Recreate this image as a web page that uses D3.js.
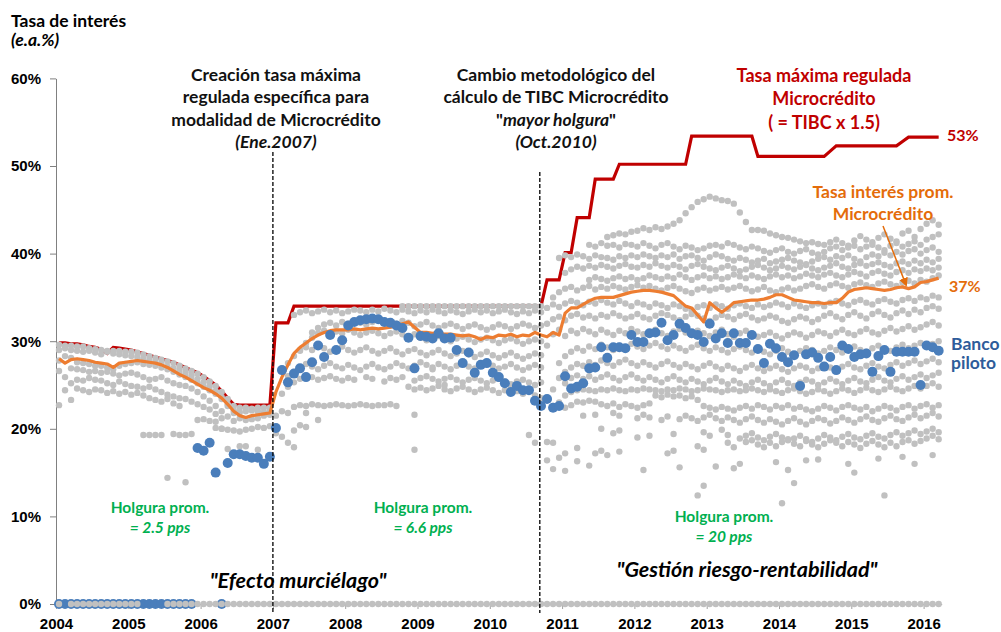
<!DOCTYPE html>
<html>
<head>
<meta charset="utf-8">
<script src="https://cdn.jsdelivr.net/npm/d3@7"></script>
<style>
body{margin:0;background:#fff}
svg{font-family:Lato,"Open Sans",sans-serif;font-weight:bold}
</style>
</head>
<body>
<script>
var width = 1001, height = 632;

// meses: indice 0 = ene.2004 ... 146 = mar.2016
var years = [2004,2005,2006,2007,2008,2009,2010,2011,2012,2013,2014,2015,2016];
var yTicks = [0,10,20,30,40,50,60];

// tasa maxima regulada (microcredito)
var redCap = [29.8,29.8,29.7,29.7,29.6,29.4,29.3,29.1,28.6,29.3,29.2,29.1,29.0,28.8,28.6,28.4,28.2,28.0,27.8,27.6,
  27.3,27.0,26.7,26.4,26.0,25.5,25.0,24.3,23.5,22.8,22.7,22.7,22.7,22.7,22.7,22.7,
  32.1,32.1,32.1,
  34.0,34.0,34.0,34.0,34.0,34.0,34.0,34.0,34.0,34.0,34.0,34.0,34.0,34.0,34.0,34.0,34.0,34.0,34.0,34.0,34.0,
  34.0,34.0,34.0,34.0,34.0,34.0,34.0,34.0,34.0,34.0,34.0,34.0,34.0,34.0,34.0,34.0,34.0,34.0,34.0,34.0,34.0,
  37.0,37.0,37.0,40.1,40.1,44.1,44.1,44.1,48.5,48.5,48.5,48.5,
  50.2,50.2,50.2,50.2,50.2,50.2,50.2,50.2,50.2,50.2,50.2,50.2,
  53.4,53.4,53.4,53.4,53.4,53.4,53.4,53.4,53.4,53.4,53.4,
  51.1,51.1,51.1,51.1,51.1,51.1,51.1,51.1,51.1,51.1,51.1,51.1,
  51.7,52.3,52.3,52.3,52.3,52.3,52.3,52.3,52.3,52.3,52.3,52.3,52.8,
  53.3,53.3,53.3,53.3,53.3,53.3];

// tasa de interes promedio microcredito
var avgRate = [28.0,27.5,27.9,28.0,27.9,27.8,27.6,27.5,27.4,27.0,27.5,27.6,27.7,27.8,27.7,27.6,27.5,27.3,27.0,26.6,
  26.2,25.9,25.5,25.1,24.7,24.4,24.0,23.5,22.8,22.0,21.5,21.3,21.5,21.6,21.7,21.8,
  24.2,25.9,27.3,28.6,29.3,29.8,30.3,30.7,31.0,31.2,31.3,31.3,
  31.3,31.4,31.3,31.4,31.5,31.4,31.5,31.6,31.8,32.0,32.2,
  31.6,31.0,31.0,30.9,31.0,30.8,30.8,30.7,30.6,30.7,30.5,30.2,30.5,30.4,30.7,30.6,30.8,30.5,30.7,30.6,31.0,30.7,30.5,31.0,30.7,
  33.2,33.8,33.8,34.2,34.6,34.9,35.0,35.0,35.0,35.2,35.4,35.6,35.7,35.8,35.8,35.7,35.6,35.4,35.2,34.6,
  34.0,33.8,33.0,32.2,34.4,33.8,33.3,33.8,34.4,34.5,34.6,34.7,34.7,34.8,35.0,35.3,35.3,35.0,34.7,34.6,
  34.5,34.4,34.4,34.3,34.4,34.4,34.9,35.6,35.9,36.0,36.1,36.0,35.9,35.8,35.9,36.1,36.2,36.0,36.2,36.7,
  36.8,37.0,37.2];

// banco piloto
var piloto = [0,0,0,0,0,0,0,0,0,0,0,0,0,0,0,0,0,0,0,0,0,0,0,
  17.8,17.5,18.4,15.0,0,16.1,17.1,17.1,16.9,16.7,16.7,16.0,16.8,
  20.1,26.7,25.3,26.3,26.9,25.9,27.6,29.5,28.2,30.7,
  29.0,30.1,31.8,32.2,32.4,32.5,32.6,32.5,32.2,32.1,
  31.8,31.5,30.4,26.9,30.6,30.5,30.3,30.9,30.3,30.4,
  29.0,27.5,28.7,26.4,27.3,27.5,26.4,25.9,25.2,24.2,
  24.9,24.4,24.4,23.2,22.6,23.4,22.4,22.6,26.0,24.6,
  24.8,25.2,26.9,27.0,29.3,28.1,29.3,29.3,29.2,30.7,
  29.9,29.9,30.9,31.0,32.1,30.1,30.7,32.0,31.5,30.9,
  30.7,29.9,32.0,30.3,30.9,29.8,30.9,29.8,29.8,30.7,
  29.1,27.5,29.7,29.2,28.2,27.6,28.4,24.9,28.5,28.7,
  28.1,27.1,28.2,26.7,29.5,29.1,28.2,28.5,28.6,26.5,
  28.3,29.0,26.5,28.8,28.8,28.8,28.8,25.0,29.5,29.3,
  28.9];

// resto de entidades: [mes inicial, valores mensuales] ("-" = sin dato)
var grayRows = [
  [0, "29.6 29.5 29.5 29.4 29.4 29.2 29.1 29.0 28.9 28.9 28.9 28.8 28.8 28.7 28.5 28.3 28.1 27.9 27.7 27.5 27.2 26.9 26.6 26.3 25.9 25.4 24.9 24.2 23.4 22.6 22.4 22.4 22.3 22.4 22.4 22.4"],
  [0, "29.0 29.2 29.0 28.9 28.8 28.9 28.7 28.5 28.8 28.6 28.5 28.4 28.3 28.2 28.0 27.8 27.6 27.4 27.1 26.9 26.7 26.4 26.1 25.7 25.3 24.9 24.3 23.6 22.8 22.1 21.9 22.0 22.1 22.0 21.9 22.0"],
  [0, "27.8 28.3 28.1 27.6 27.5 27.4 27.2 27.2 27.0 26.8 27.2 27.4 27.5 27.6 27.4 27.3 27.2 27.0 26.8 26.5 26.2 25.9 25.6 25.2 24.8 24.4 24.0 23.4 22.6 21.8 21.2 21.0 21.1 21.2 21.5 21.6"],
  [0, "26.6 25.9 26.9 26.8 26.7 26.5 26.6 26.4 26.5 26.3 26.1 26.3 26.4 26.2 25.9 25.6 25.7 25.9 25.5 25.2 25.0 24.9 24.6 24.2 23.7 23.2 22.6 22.0 21.4 20.9"],
  [2, "25.2 25.6 25.5 25.8 25.6 25.5 25.2 25.0 25.4 25.1 24.9 24.8 24.6 24.8 24.5 24.2 23.9 23.7 23.5 23.4 23.1 22.8 22.5 22.2 21.7 21.2"],
  [0, "22.7 24.4 23.3 24.6 24.4 24.2 24.5 24.4 24.1 24.3 24.0 24.2 23.9 24.1 23.8 23.5 23.3 23.1 23.4 22.9 22.6"],
  [14, "19.3 19.3 19.3 19.3 - 19.4 19.3 19.3 19.4 21.0 21.1 20.9 20.1 20.0 19.9 19.8 19.7 19.9 20.0 20.2 20.1 20.3"],
  [57, "34.0 34.0 34.0 34.0 34.0 34.0 34.0 34.0 34.0 34.0 34.0 34.0 34.0 34.0 34.0 34.0 34.0 34.0 34.0 34.0 34.0 34.0 34.0 34.0"],
  [39, "33.0 33.3 33.5 33.2 33.4 33.6 33.3 33.5 33.2 33.4 33.6 33.5 33.3 33.6 33.4 33.7 33.5 33.3 33.6 33.4 33.2 33.5 33.3 33.6 33.4 33.2 33.5 33.3 33.1 33.4 33.6 33.3 33.5 33.2 33.4 33.6 33.3 33.1 33.4 33.2 33.5 33.3"],
  [42, "31.0 31.5 31.9 32.1 31.8 32.2 32.0 32.3 32.1 31.9 32.2 32.4 32.1 31.8 32.0 32.3 32.1 31.7 31.9 32.2 31.8 31.5 31.8 32.0 31.7 31.4 31.7 31.9 31.6 31.3 31.6 31.9 31.7 31.4 31.7 32.0 31.8 31.5 31.8"],
  [40, "29.0 29.8 30.4 30.9 31.2 30.8 31.1 30.9 31.3 31.0 30.7 31.0 31.2 30.9 30.6 30.9 31.1 30.8 30.5 30.8 30.4 30.1 30.4 30.6 30.3 30.0 30.3 30.5 30.2 29.9 30.2 30.4 30.1 29.8 30.1 30.3 30.0 29.7 30.0 30.2 30.0"],
  [38, "27.5 28.3 28.9 29.3 29.0 29.5 29.2 28.8 29.1 29.4 29.0 28.7 29.0 29.3 28.9 28.6 28.9 29.2 28.8 28.5 28.9 29.1 28.7 28.4 28.7 29.0 28.6 28.3 28.6 28.9 28.5 28.2 28.5 28.8 28.4 28.1 28.4 28.7 28.3 28.0 28.3 28.6 28.4"],
  [38, "26.0 26.5 27.0 27.4 27.1 26.8 27.2 27.5 27.1 26.9 27.3 27.0 26.7 27.1 27.4 27.0 26.8 27.1 27.5 27.2 26.9 27.2 27.6 27.3 27.0 27.4 27.1 26.8 27.2 27.5 27.1 26.9 27.3 27.6 27.2 26.9 27.1 27.4 27.0 26.7 27.0 27.3 27.0"],
  [37, "24.0 24.8 25.3 25.7 - 25.9 25.6 25.8 26.0 25.7 25.5 25.8 25.6 - 25.9 25.7 - 25.4 25.8 25.6 25.9 - 25.5 25.8 26.0 25.7 25.4 25.7 25.9 25.6 25.3 25.6 25.8 25.5 25.2 25.5 25.7 25.4 25.1 25.4 25.6 25.3 25.0 25.3"],
  [58, "24.8 24.5 24.7 24.4 24.6 24.9 24.5 24.3 24.6 24.8 24.5 24.2 24.5 24.7 24.4 24.1 24.4 24.6 24.3 24.0 24.3 23.8 23.5"],
  [39, "22.5 22.7 22.6 22.8 22.7 22.6 22.7 22.8 22.7 22.6 22.7 22.8 22.7 22.6 22.7 22.7 22.8 22.6"],
  [36, "21.5 22.0 21.8 19.8 20.4 21.8 - 21.0"],
  [36, "19.5 19.1 18.4 17.9 - 20.2"],
  [91, "41.9 42.1 42.3 42.2 42.5 42.6 42.9 42.7 43.0 42.8 43.1 43.4 43.8 44.6 45.3 45.9 46.2 46.5 46.3 46.1 46.0 45.7 44.7 43.6 42.7 42.7 42.6 42.3 42.1 41.9 41.8 41.6 41.4 41.2 41.3 41.1 41.0 41.3 41.6 41.2 40.9 41.5 42.0 41.6 41.3 41.8 42.2 41.7 41.4 42.3 42.6 41.9 42.8 43.4 43.8 43.3"],
  [88, "41.0 40.8 41.2 40.9 41.0 40.7 41.1 41.0 40.8 41.2 40.9 40.6 41.0 41.2 40.8 40.5 40.9 40.7 40.4 40.6 40.9 41.0 40.8 41.2 41.0 40.7 40.5 40.8 40.6 40.3 40.1 40.4 40.6 40.2 40.0 40.3 40.5 40.1 39.9 40.2 40.6 40.8 40.4 40.7 40.9 40.5 40.8 41.0 40.7 40.4 40.9 41.2 40.8 41.1 41.4 41.0 41.6 41.9 42.2"],
  [83, "39.5 39.8 39.6 39.9 39.7 39.4 39.8 39.6 39.5 39.3 39.7 39.5 39.8 39.6 39.9 39.7 39.5 39.8 39.6 39.9 39.4 39.7 39.8 39.5 39.2 39.6 39.9 39.7 39.4 39.2 39.5 39.3 39.0 39.2 39.4 38.9 39.1 39.3 39.5 39.2 39.0 38.8 39.1 39.4 39.6 39.3 39.7 39.5 39.8 39.4 39.1 39.6 39.9 39.7 40.1 39.8 40.2 39.9 40.3 40.5 40.0 40.4 40.7 40.2"],
  [84, "37.8 38.2 38.5 38.3 38.6 38.4 38.7 38.5 38.3 38.6 38.8 38.5 38.4 38.7 38.5 38.9 38.6 38.4 38.7 38.5 38.2 38.6 38.8 38.5 38.3 38.1 38.4 38.6 38.3 38.0 38.2 38.5 38.7 38.4 38.1 38.3 38.6 38.4 38.2 38.5 38.7 38.3 38.1 38.4 38.6 38.9 38.5 38.3 38.7 38.9 38.6 38.8 39.0 38.7 38.5 38.9 39.1 38.8 39.2 38.9 39.3 39.0 39.4"],
  [88, "37.0 37.3 37.1 36.9 37.2 37.4 37.1 37.3 37.0 37.2 37.5 37.3 37.1 37.4 37.2 37.6 37.3 37.0 37.3 37.5 37.2 37.4 37.1 37.3 37.6 37.4 37.2 37.5 37.3 37.1 37.4 37.6 37.3 37.5 37.2 37.4 37.7 37.5 37.3 37.6 37.8 37.5 37.3 37.6 37.9 37.7 37.4 37.8 38.0 37.7 37.5 37.9 38.1 37.8 38.2 38.0 38.3 38.1 38.4"],
  [82, "35.0 35.6 36.0 36.2 35.8 36.1 36.3 35.9 36.2 36.0 36.3 36.1 35.9 36.2 36.4 36.1 36.3 36.0 35.8 36.1 36.3 36.0 35.7 35.5 35.9 36.1 35.8 36.0 36.2 35.9 36.1 36.3 36.0 35.7 35.9 36.2 35.8 35.6 35.9 36.1 35.8 36.0 36.3 36.5 36.2 36.0 36.4 36.6 36.3 36.1 36.5 36.7 36.4 36.2 36.6 36.8 36.5 36.3 36.7 36.9 36.6 37.0 36.8 37.2 37.5"],
  [81, "33.8 34.2 33.9 34.3 34.6 34.4 34.1 34.5 34.3 34.7 34.4 34.2 34.6 34.3 34.0 34.4 34.2 33.9 34.3 34.1 33.8 34.2 34.0 33.7 33.5 33.9 34.1 33.8 34.2 34.0 33.7 34.1 34.3 34.0 33.8 34.2 33.9 34.1 34.4 34.2 33.9 34.3 34.0 33.8 34.1 34.3 34.0 34.4 34.6 34.3 34.1 34.5 34.7 34.4 34.2 34.6 34.8 34.5 34.3 34.7 34.9 34.6 35.0 34.8 35.2 35.0"],
  [81, "32.0 32.5 32.8 32.4 32.9 33.1 32.7 32.9 32.6 33.0 32.8 33.2 32.9 32.6 32.8 33.1 32.7 32.5 32.9 33.2 33.0 32.7 32.4 32.8 33.1 32.9 32.6 32.3 32.7 33.0 32.8 32.5 32.9 33.1 32.7 32.4 32.6 32.9 32.7 32.3 32.1 32.5 32.8 32.6 32.2 32.5 32.9 33.2 32.8 32.5 33.0 33.3 32.9 32.6 33.1 33.4 33.0 32.7 33.2 33.5 33.1 33.6 33.3 33.8 34.0 33.7"],
  [81, "29.5 30.8 31.3 30.6 31.2 30.9 31.4 31.1 30.8 31.3 31.0 30.7 31.2 30.9 31.4 31.1 30.8 31.0 31.3 30.9 30.6 31.1 31.4 31.0 30.7 31.2 30.9 30.6 31.0 31.3 30.8 30.5 30.9 31.2 30.8 30.5 30.7 31.0 30.6 30.3 30.7 31.0 30.8 30.4 30.7 31.1 30.9 30.6 31.0 31.3 30.9 30.7 31.1 31.4 31.0 30.8 31.2 31.5 31.1 31.4 31.7 31.3 31.6 31.9 32.2 31.8"],
  [83, "27.5 28.3 28.8 29.2 28.9 29.4 29.1 29.6 29.3 29.0 29.5 29.2 29.7 29.4 29.1 29.5 29.8 29.4 29.1 29.5 29.2 28.9 29.3 29.6 29.2 28.9 29.3 29.0 28.7 29.1 29.4 29.0 28.7 29.1 28.8 28.5 28.9 29.2 28.8 28.5 28.9 29.2 29.0 28.6 28.9 29.3 29.0 28.7 29.1 29.4 29.0 28.8 29.2 29.5 29.1 28.9 29.3 29.6 29.2 29.5 29.8 29.4 29.7 30.0"],
  [82, "24.5 25.8 26.5 27.0 27.4 27.2 27.6 27.3 27.8 27.5 27.2 27.6 27.9 27.5 27.2 27.6 27.3 27.0 27.4 27.7 27.3 27.0 27.4 27.1 26.8 27.2 27.5 27.1 26.8 27.2 26.9 26.6 27.0 27.3 26.9 26.6 26.9 27.2 26.8 26.5 26.9 27.2 27.0 26.6 26.9 27.3 27.0 26.7 27.1 27.4 27.0 26.8 27.2 27.5 27.1 26.9 27.3 27.6 27.2 27.5 27.8 27.4 27.7 28.0 27.6"],
  [84, "25.2 25.8 26.1 25.7 26.0 25.6 25.9 26.2 25.8 25.5 25.9 26.2 25.8 25.5 25.9 25.6 25.3 25.7 26.0 25.6 25.3 25.7 25.4 25.1 25.5 25.8 25.4 25.1 25.5 25.2 24.9 25.3 25.6 25.2 24.9 25.3 25.6 25.2 24.9 25.3 25.6 25.4 25.0 25.3 25.7 25.4 25.1 25.5 25.8 25.4 25.2 25.6 25.9 25.5 25.3 25.7 26.0 25.6 25.9 26.2 25.8 26.1 26.4"],
  [83, "23.0 23.8 24.2 24.4 24.5 24.4 24.3 24.5 24.4 24.6 24.4 24.3 24.5 24.4 24.6 24.5 24.4 24.3 24.5 24.4 24.6 24.5 24.3 24.4 24.6 24.5 24.4 24.2 24.4 24.5 24.3 24.4 24.6 24.4 24.2 24.5 24.3 24.1 24.4 24.6 24.3 24.0 24.2 24.5 24.3 24.0 24.3 24.6 24.4 24.1 24.4 24.7 24.4 24.2 24.5 24.8 24.5 24.3 24.6 24.9 24.6 24.9 25.2 24.8"],
  [81, "23.4 22.6 22.9 22.4 22.7 23.1 23.0 23.2 23.1 22.8 22.6 22.9 22.5 22.8 22.6 22.4 22.7 22.9 23.8 23.6 23.9 23.7 23.8 23.5 23.7 23.3 22.6 22.4 22.2 22.5 22.3 22.1 22.4 22.6 22.3 22.7 22.5 22.2 22.6 22.4 22.7 22.3 22.5 22.2 22.0 22.3 22.6 22.4 22.1 22.5 22.7 22.4 22.2 22.5 22.0 22.3 22.6 22.4 22.1 22.5 22.7 22.3 22.6 22.8 22.4 22.7"],
  [86, "- 21.5 - 21.6 - - 21.8 21.5 - - 21.2 21.6 21.3 - 21.0 21.4 - 21.1 21.5 21.2 20.9 21.3 21.6 21.2 20.9 21.3 21.0 20.7 21.1 21.4 21.0 20.7 21.1 20.8 20.5 20.9 21.2 20.8 20.5 20.9 21.2 21.0 20.6 20.9 21.3 21.0 20.7 21.1 21.4 21.0 20.8 21.2 21.5 21.1 20.9 21.3 21.6 21.2 21.5 21.8 21.4"],
  [90, "20.0 - 19.5 19.8 - - 19.0 - 19.2 - - - 19.4 - - - - 19.6 19.2 - 19.9 19.3 - 18.9 19.2 19.5 19.0 18.7 19.1 19.4 19.0 18.7 18.9 19.2 18.8 18.5 18.9 19.3 19.0 18.7 19.1 19.4 19.0 18.8 19.2 19.5 19.1 18.9 19.3 19.6 19.2 19.5 19.8 19.4 19.7 20.0 19.6"],
  [81, "18.5 18.4 - 17.2 - 17.8 - - 17.2 17.5 17.0 - 17.4 - - - - - - - 17.2 17.5 - - - 18.0 17.6 - - - 18.4 17.9 - 18.5 18.7 18.2 17.9 18.4 18.0 18.5 18.8 18.3 18.0 18.6 18.2 17.9 18.3 18.7 18.4 18.0 18.5 18.2 17.8 18.3 18.6 18.2 17.9 18.4 18.0 18.5 18.7 18.3 18.6 18.9 19.2 18.8"]
];

// puntos sueltos [mes, tasa]
var graySparse = [[18,14.4],[21,13.9],[28,17.7],[30,18.0],[31,18.0],[33,17.6],[26,20.8],[27,20.0],
  [59,21.6],[59,17.6],[78,19.3],[79,18.4],[62,26.8],[64,25.0],
  [81,16.4],[82,15.4],[83,16.7],[84,15.2],[86,16.3],[88,15.8],[97,15.3],[103,15.6],[106,12.4],[107,13.5],
  [109,15.7],[112,15.5],[113,16.0],[119,16.2],[120,11.5],[121,15.3],[122,13.8],[124,16.4],[126,16.5],
  [131,16.0],[132,15.0],[136,16.6],[137,12.4],[140,16.8],[142,16.0],[145,17.0]];

// entidades sin dato (0%) en toda la serie, salvo estos meses
var zeroFirst = 0, zeroLast = 146;
var zeroGaps = [1,14,15,16,17];

// lineas de eventos (ene.2007 y oct.2010)
var eventMonths = [36, 80.3];

var svg = d3.select("body").append("svg")
  .attr("width", width).attr("height", height)
  .style("background", "#fff");

var x = d3.scaleLinear().domain([0, 147]).range([56, 56 + 6.025 * 147]);
var y = d3.scaleLinear().domain([0, 60]).range([604, 78.4]);
function xc(m){ return x(m + 0.5); }

// ejes
var yAxis = svg.append("g").attr("transform", "translate(56,0)")
  .call(d3.axisLeft(y).tickValues(yTicks).tickFormat(function(d){ return d + "%"; })
    .tickSizeInner(6).tickSizeOuter(0).tickPadding(9));
yAxis.selectAll("text").style("font-size", "15px").style("font-weight", "bold").attr("fill", "#000");
yAxis.selectAll("line, path").attr("stroke", "#808080");

var xAxis = svg.append("g").attr("transform", "translate(0,604)")
  .call(d3.axisBottom(x).tickValues(d3.range(0, 145, 12))
    .tickFormat(function(d){ return years[d / 12]; })
    .tickSizeInner(5).tickSizeOuter(0).tickPadding(9));
xAxis.selectAll("text").style("font-size", "15px").style("font-weight", "bold").attr("fill", "#000");
xAxis.selectAll("line, path").attr("stroke", "#a0a0a0");

var line = d3.line().x(function(d, i){ return xc(i); }).y(function(d){ return y(d); });

// tasa maxima
svg.append("path").datum(redCap).attr("d", line)
  .attr("fill", "none").attr("stroke", "#c00000").attr("stroke-width", 3.2);

// resto de entidades
var grayPts = [];
grayRows.forEach(function(r){
  r[1].trim().split(/\s+/).forEach(function(v, i){
    if (v !== "-") grayPts.push([r[0] + i, +v]);
  });
});
graySparse.forEach(function(p){ grayPts.push(p); });

svg.append("g").selectAll("circle").data(grayPts).enter().append("circle")
  .attr("cx", function(d){ return xc(d[0]); })
  .attr("cy", function(d){ return y(d[1]); })
  .attr("r", 3.2).attr("fill", "#c0c0c0");

// promedio
svg.append("path").datum(avgRate).attr("d", line)
  .attr("fill", "none").attr("stroke", "#ed7d31").attr("stroke-width", 3.2)
  .attr("stroke-linejoin", "round");

// banco piloto
svg.append("g").selectAll("circle").data(piloto).enter().append("circle")
  .attr("cx", function(d, i){ return xc(i); })
  .attr("cy", function(d){ return y(d); })
  .attr("r", 5).attr("fill", "#4a7ebb");

// fila en 0%
var zeroPts = [];
for (var m = zeroFirst; m <= zeroLast; m++) if (zeroGaps.indexOf(m) < 0) zeroPts.push(m);
svg.append("g").selectAll("circle").data(zeroPts).enter().append("circle")
  .attr("cx", function(d){ return xc(d); })
  .attr("cy", y(0))
  .attr("r", 3.2).attr("fill", "#c0c0c0");

// lineas punteadas
svg.selectAll(".evt").data(eventMonths).enter().append("line")
  .attr("class", "evt")
  .attr("x1", function(d){ return x(d); }).attr("x2", function(d){ return x(d); })
  .attr("y1", function(d, i){ return i === 0 ? 152 : 172; }).attr("y2", 613)
  .attr("stroke", "#000").attr("stroke-width", 1.3).attr("stroke-dasharray", "4,2");

// textos
function label(lines, cx, y0, lh, size, color, anchor){
  var t = svg.append("text").attr("x", cx).attr("y", y0)
    .attr("text-anchor", anchor || "middle").attr("fill", color)
    .style("font-size", size + "px").style("font-weight", "bold");
  lines.forEach(function(l, i){
    var ts = t.append("tspan").attr("x", cx).attr("y", y0 + i * lh);
    l.forEach(function(part){
      ts.append("tspan").text(part[0]).style("font-style", part[1] ? "italic" : "normal");
    });
  });
  return t;
}

label([[["Tasa de interés", 0]], [["(e.a.%)", 1]]], 11, 27, 19, 17.5, "#000", "start");

label([[["Creación tasa máxima", 0]], [["regulada específica para", 0]],
  [["modalidad de Microcrédito", 0]], [["(Ene.2007)", 1]]], 276, 81, 22.3, 17.5, "#111");
label([[["Cambio metodológico del", 0]], [["cálculo de TIBC Microcrédito", 0]],
  [["\"", 0], ["mayor holgura", 1], ["\"", 0]], [["(Oct.2010)", 1]]], 556, 81, 22.3, 17.5, "#111");

label([[["Tasa máxima regulada", 0]], [["Microcrédito", 0]], [["( = TIBC x 1.5)", 0]]],
  824, 82, 23.3, 18, "#c00000");
label([[["53%", 0]]], 947, 141, 0, 16, "#c00000", "start");

label([[["Tasa interés prom.", 0]], [["Microcrédito", 0]]], 883, 198, 22, 17.5, "#e46c0a");
label([[["37%", 0]]], 949, 292, 0, 16, "#e46c0a", "start");
label([[["Banco", 0]], [["piloto", 0]]], 951, 350, 19, 17.5, "#2e5c9a", "start");

svg.append("defs").append("marker").attr("id", "arr")
  .attr("viewBox", "0 0 10 10").attr("refX", 8).attr("refY", 5)
  .attr("markerWidth", 6).attr("markerHeight", 6).attr("orient", "auto")
  .append("path").attr("d", "M0,0L10,5L0,10z").attr("fill", "#e46c0a");
svg.append("line").attr("x1", 883).attr("y1", 226)
  .attr("x2", xc(140.6)).attr("y2", y(36.4))
  .attr("stroke", "#e46c0a").attr("stroke-width", 1.5).attr("marker-end", "url(#arr)");

label([[["Holgura prom.", 0]], [["= 2.5 pps", 1]]], 160, 513, 20, 15.5, "#00b050");
label([[["Holgura prom.", 0]], [["= 6.6 pps", 1]]], 423, 513, 20, 15.5, "#00b050");
label([[["Holgura prom.", 0]], [["= 20 pps", 1]]], 724, 522, 20, 15.5, "#00b050");

label([[["\"Efecto murciélago\"", 1]]], 298, 588, 0, 21.5, "#000");
label([[["\"Gestión riesgo-rentabilidad\"", 1]]], 747, 577, 0, 21.5, "#000");
</script>
</body>
</html>
